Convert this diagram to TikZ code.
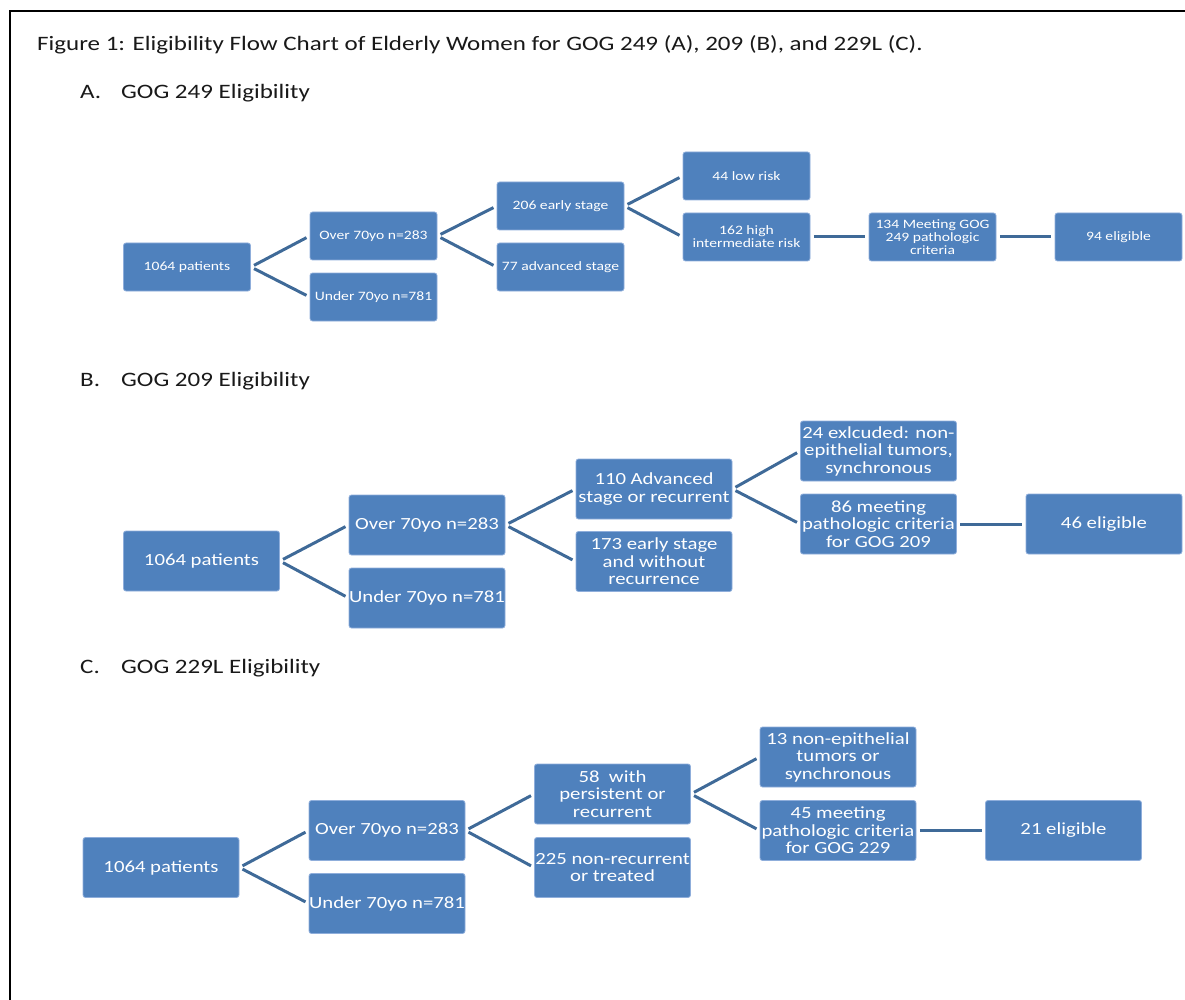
\documentclass[tikz,border=0pt]{standalone}
\usepackage{fontspec}
\setmainfont{Carlito}[FakeStretch=1.22]
\definecolor{boxblue}{HTML}{4F81BD}
\definecolor{boxedge}{HTML}{8FAEDB}
\definecolor{connc}{HTML}{3F6A98}
\begin{document}
\begin{tikzpicture}[x=1pt,y=-1pt,
  bx/.style={fill=boxblue,draw=boxedge,line width=0.8pt,rounded corners=2.5pt,text=white,align=center,inner xsep=0pt,inner ysep=1pt},
  bxa/.style={bx,minimum width=127,minimum height=48,font=\fontsize{12.8}{12.8}\selectfont},
  bxb/.style={bx,minimum width=156,minimum height=60,font=\fontsize{17}{17.5}\selectfont},
  conn/.style={draw=connc,line width=3pt,shorten <=3.5pt,shorten >=3.5pt},
  ttl/.style={anchor=west,inner sep=0pt,text=black!90}]
\useasboundingbox (0,0) rectangle (1185,1000);
\draw[line width=2pt] (10,1000) -- (10,11) -- (1185,11);
\node[ttl,font=\fontsize{20.5}{22}\selectfont] (title) at (37,45) {Figure 1: Eligibility Flow Chart of Elderly Women for GOG 249 (A), 209 (B), and 229L (C).};
\node[ttl,font=\fontsize{20.5}{22}\selectfont] (ha) at (80,93) {\makebox[41pt][l]{A.}GOG 249 Eligibility};
\node[ttl,font=\fontsize{20.5}{22}\selectfont] (hb) at (80,381) {\makebox[41pt][l]{B.}GOG 209 Eligibility};
\node[ttl,font=\fontsize{20.5}{22}\selectfont] (hc) at (80,668) {\makebox[41pt][l]{C.}GOG 229L Eligibility};
% Section A
\node[bxa] (a1) at (187,267) {1064 patients};
\node[bxa] (a2) at (373.5,236) {Over 70yo n=283};
\node[bxa] (a3) at (373.5,297) {Under 70yo n=781};
\node[bxa] (a4) at (560.5,206) {206 early stage};
\node[bxa] (a5) at (560.5,267) {77 advanced stage};
\node[bxa] (a6) at (746.5,176) {44 low risk};
\node[bxa] (a7) at (746.5,237) {162 high\\intermediate risk};
\node[bxa] (a8) at (932.5,237) {134 Meeting GOG\\249 pathologic\\criteria};
\node[bxa] (a9) at (1118.5,237) {94 eligible};
\draw[conn] (a1.east) -- (a2.west);
\draw[conn] (a1.east) -- (a3.west);
\draw[conn] (a2.east) -- (a4.west);
\draw[conn] (a2.east) -- (a5.west);
\draw[conn] (a4.east) -- (a6.west);
\draw[conn] (a4.east) -- (a7.west);
\draw[conn] (a7.east) -- (a8.west);
\draw[conn] (a8.east) -- (a9.west);
% Section B
\node[bxb] (b1) at (201.5,561) {1064 patients};
\node[bxb] (b2) at (427,525) {Over 70yo n=283};
\node[bxb] (b3) at (427,598) {Under 70yo n=781};
\node[bxb] (b4) at (654,489) {110 Advanced\\stage or recurrent};
\node[bxb] (b5) at (654,561.5) {173 early stage\\and without\\recurrence};
\node[bxb] (b6) at (878.5,451) {24 exlcuded: non-\\epithelial tumors,\\synchronous};
\node[bxb] (b7) at (878.5,524) {86 meeting\\pathologic criteria\\for GOG 209};
\node[bxb] (b8) at (1104,524) {46 eligible};
\draw[conn] (b1.east) -- (b2.west);
\draw[conn] (b1.east) -- (b3.west);
\draw[conn] (b2.east) -- (b4.west);
\draw[conn] (b2.east) -- (b5.west);
\draw[conn] (b4.east) -- (b6.west);
\draw[conn] (b4.east) -- (b7.west);
\draw[conn] (b7.east) -- (b8.west);
% Section C
\node[bxb] (c1) at (161,867.5) {1064 patients};
\node[bxb] (c2) at (387,830.5) {Over 70yo n=283};
\node[bxb] (c3) at (387,903.5) {Under 70yo n=781};
\node[bxb] (c4) at (612.5,794) {58~ with\\persistent or\\recurrent};
\node[bxb] (c5) at (612.5,867.5) {225 non-recurrent\\or treated};
\node[bxb] (c6) at (838,757) {13 non-epithelial\\tumors or\\synchronous};
\node[bxb] (c7) at (838,830.5) {45 meeting\\pathologic criteria\\for GOG 229};
\node[bxb] (c8) at (1063.5,830.5) {21 eligible};
\draw[conn] (c1.east) -- (c2.west);
\draw[conn] (c1.east) -- (c3.west);
\draw[conn] (c2.east) -- (c4.west);
\draw[conn] (c2.east) -- (c5.west);
\draw[conn] (c4.east) -- (c6.west);
\draw[conn] (c4.east) -- (c7.west);
\draw[conn] (c7.east) -- (c8.west);
\end{tikzpicture}
\end{document}
